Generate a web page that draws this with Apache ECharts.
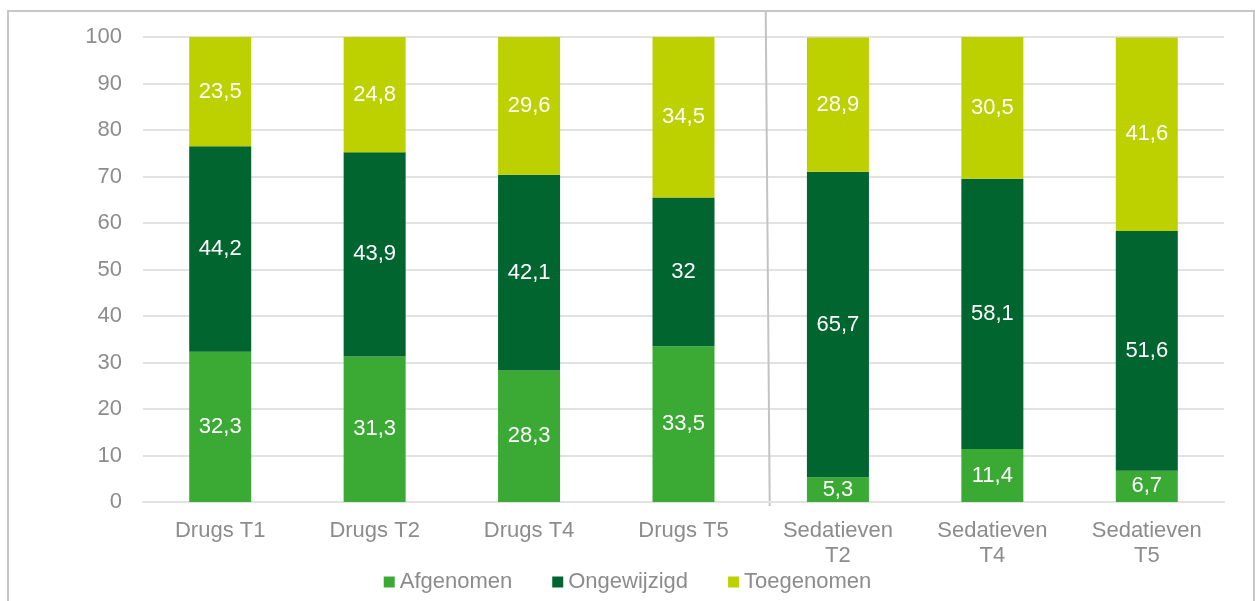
<!DOCTYPE html>
<html>
<head>
<meta charset="utf-8">
<script src="https://cdn.jsdelivr.net/npm/echarts@6/dist/echarts.min.js"></script>
<style>
  html, body { margin: 0; padding: 0; background: #fff; }
  #main { width: 1255px; height: 601px; }
</style>
</head>
<body>
<div id="main"></div>
<script>
// Datos del gráfico
const categorias = ["Drugs T1", "Drugs T2", "Drugs T4", "Drugs T5", "Sedatieven\nT2", "Sedatieven\nT4", "Sedatieven\nT5"];
const afgenomen = [32.3, 31.3, 28.3, 33.5, 5.3, 11.4, 6.7];
const ongewijzigd = [44.2, 43.9, 42.1, 32, 65.7, 58.1, 51.6];
const toegenomen = [23.5, 24.8, 29.6, 34.5, 28.9, 30.5, 41.6];
const yTicks = { min: 0, max: 100, interval: 10 };

const fuente = "Liberation Sans";
const gris = "#8c8c8c";
const tam = 22;

const serie = (name, data, color) => ({
  name: name,
  type: "bar",
  stack: "total",
  data: data,
  barWidth: 62,
  itemStyle: { color: color },
  label: {
    show: true,
    position: "inside",
    color: "#fff",
    fontFamily: fuente,
    fontSize: tam,
    formatter: (p) => String(p.value).replace(".", ","), // coma decimal
  },
});

const chart = echarts.init(document.getElementById("main"));

chart.setOption({
  animation: false,
  textStyle: { fontFamily: fuente },
  grid: { left: 143, right: 31, top: 37, bottom: 99 },
  legend: {
    bottom: 3,
    left: "center",
    itemWidth: 11,
    itemHeight: 11,
    itemGap: 40,
    itemTextGap: 5,
    icon: "rect",
    textStyle: { color: gris, fontSize: tam, fontFamily: fuente },
    data: ["Afgenomen", "Ongewijzigd", "Toegenomen"],
  },
  xAxis: {
    type: "category",
    data: categorias,
    axisLine: { lineStyle: { color: "#e2e2e2", width: 2 } },
    axisTick: { show: false },
    axisLabel: { color: gris, fontSize: tam, fontFamily: fuente, margin: 16, lineHeight: 25 },
  },
  yAxis: {
    type: "value",
    min: yTicks.min,
    max: yTicks.max,
    interval: yTicks.interval,
    axisLine: { show: false },
    axisTick: { show: false },
    axisLabel: { color: gris, fontSize: tam, fontFamily: fuente, margin: 21 },
    splitLine: { lineStyle: { color: "#e2e2e2", width: 2 } },
  },
  series: [
    serie("Afgenomen", afgenomen, "#3aaa35"),
    serie("Ongewijzigd", ongewijzigd, "#00652e"),
    serie("Toegenomen", toegenomen, "#bdd000"),
  ],
});

// Marco exterior y línea separadora entre Drugs y Sedatieven
const xA = chart.convertToPixel({ xAxisIndex: 0 }, categorias[3]);
const xB = chart.convertToPixel({ xAxisIndex: 0 }, categorias[4]);
const xSep = (xA + xB) / 2 + 6;
const yBase = chart.convertToPixel({ yAxisIndex: 0 }, 0);

chart.setOption({
  graphic: [
    {
      type: "rect",
      shape: { x: 8, y: 11, width: 1246, height: 620 },
      style: { fill: "none", stroke: "#c6c6c6", lineWidth: 2 },
      silent: true,
    },
    {
      type: "line",
      shape: { x1: xSep - 1, y1: 11, x2: xSep + 3, y2: yBase + 4 },
      style: { stroke: "#c3c3c3", lineWidth: 2 },
      silent: true,
    },
  ],
});
</script>
</body>
</html>
